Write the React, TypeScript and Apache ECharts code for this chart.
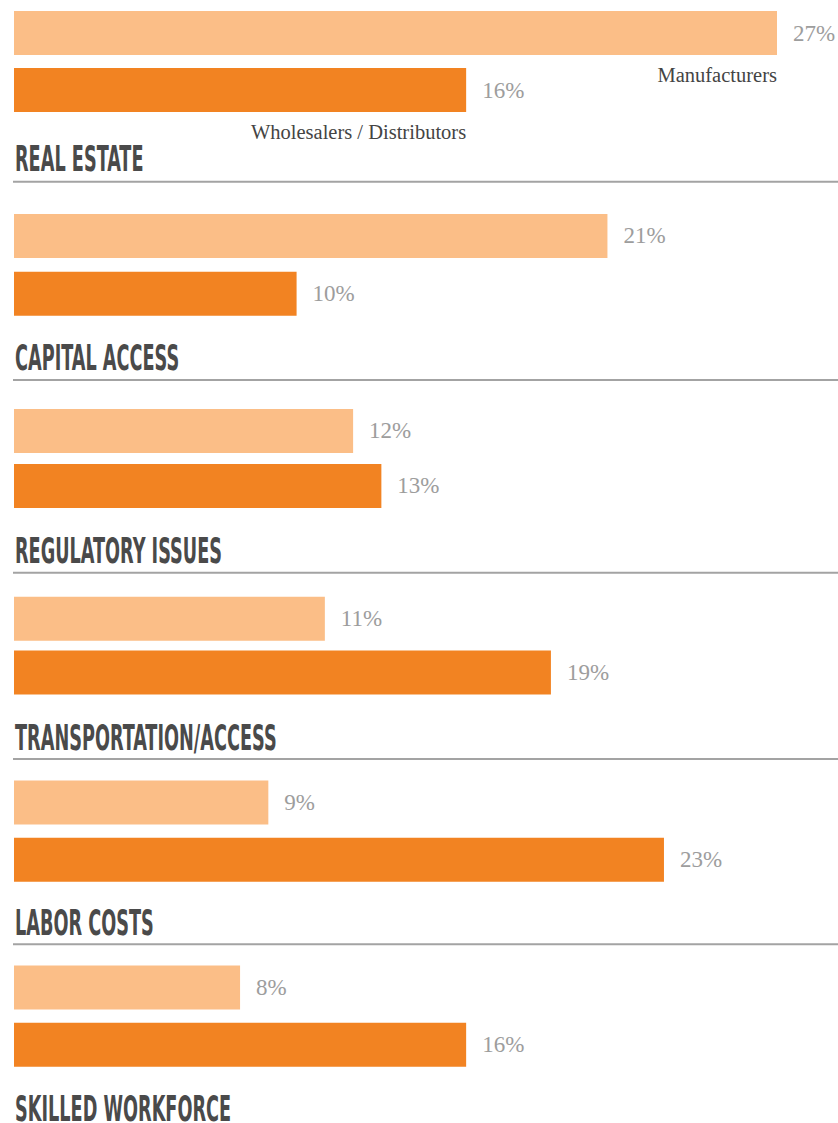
import React, { useEffect, useRef } from "react";
import * as echarts from "echarts";

// ---- Data ----
const categories = [
  "REAL ESTATE",
  "CAPITAL ACCESS",
  "REGULATORY ISSUES",
  "TRANSPORTATION/ACCESS",
  "LABOR COSTS",
  "SKILLED WORKFORCE",
];
const seriesNames = ["Manufacturers", "Wholesalers / Distributors"];
const manufacturers = [27, 21, 12, 11, 9, 8];
const wholesalers = [16, 10, 13, 19, 23, 16];

// ---- Layout (positions only) ----
const gridTops = [4.5, 207, 403.4, 591.8, 773.9, 958.9];
const gridHeights = [114, 115.6, 110, 107.6, 114.4, 114.4];
const titleYs = [159, 358, 551, 738.5, 923.5, 1109];
const ruleYs = [181.7, 380, 572.7, 759, 944.3];

const LIGHT = "#FBBE87";
const DARK = "#F28322";
const TITLE_SIZE = 35;
const TITLE_SCALE = 0.562;

export default function App() {
  const ref = useRef<HTMLDivElement>(null);

  useEffect(() => {
    if (!ref.current) return;
    const chart = echarts.init(ref.current, null, { renderer: "svg" });

    const grids = categories.map((_, i) => ({
      left: 14,
      width: 763,
      top: gridTops[i],
      height: gridHeights[i],
      containLabel: false,
    }));
    const xAxes = categories.map((_, i) => ({
      type: "value",
      gridIndex: i,
      min: 0,
      max: 27,
      show: false,
    }));
    const yAxes = categories.map((_, i) => ({
      type: "category",
      gridIndex: i,
      inverse: true,
      data: seriesNames,
      show: false,
    }));
    const series = categories.map((c, i) => ({
      type: "bar",
      name: c,
      xAxisIndex: i,
      yAxisIndex: i,
      barWidth: 44,
      data: [
        { value: manufacturers[i], itemStyle: { color: LIGHT } },
        { value: wholesalers[i], itemStyle: { color: DARK } },
      ],
      label: {
        show: true,
        position: "right",
        distance: 16,
        formatter: "{c}%",
        fontFamily: '"Liberation Serif", "DejaVu Serif", serif',
        fontSize: 23,
        color: "#9d9d9d",
      },
    }));

    chart.setOption({
      animation: false,
      grid: grids,
      xAxis: xAxes,
      yAxis: yAxes,
      series,
    });

    const graphics: any[] = [];
    categories.forEach((c, i) => {
      graphics.push({
        type: "text",
        x: 15,
        y: titleYs[i],
        scaleX: TITLE_SCALE,
        style: {
          text: c,
          fontSize: TITLE_SIZE,
          lineHeight: 26,
          fontWeight: "bold",
          fontFamily: '"Liberation Sans Narrow", "DejaVu Sans Condensed", sans-serif',
          fill: "#4a4a4a",
          align: "left",
          verticalAlign: "middle",
        },
      });
    });
    ruleYs.forEach((y) => {
      graphics.push({
        type: "line",
        shape: { x1: 13, y1: y, x2: 838, y2: y },
        style: { stroke: "#a3a3a3", lineWidth: 2 },
      });
    });
    // legend-like annotations under the first group's bars
    const firstVals = [manufacturers[0], wholesalers[0]];
    firstVals.forEach((v, k) => {
      const p = chart.convertToPixel({ xAxisIndex: 0, yAxisIndex: 0 }, [v, k]) as number[];
      graphics.push({
        type: "text",
        x: p[0],
        y: p[1] + 42,
        style: {
          text: seriesNames[k],
          fontSize: 20.5,
          fontFamily: '"Liberation Serif", "DejaVu Serif", serif',
          fill: "#444444",
          align: "right",
          verticalAlign: "middle",
        },
      });
    });
    chart.setOption({ graphic: graphics });

    return () => chart.dispose();
  }, []);

  return (
    <div
      ref={ref}
      style={{ position: "absolute", left: 0, top: 0, width: 838, height: 1123 }}
    />
  );
}
